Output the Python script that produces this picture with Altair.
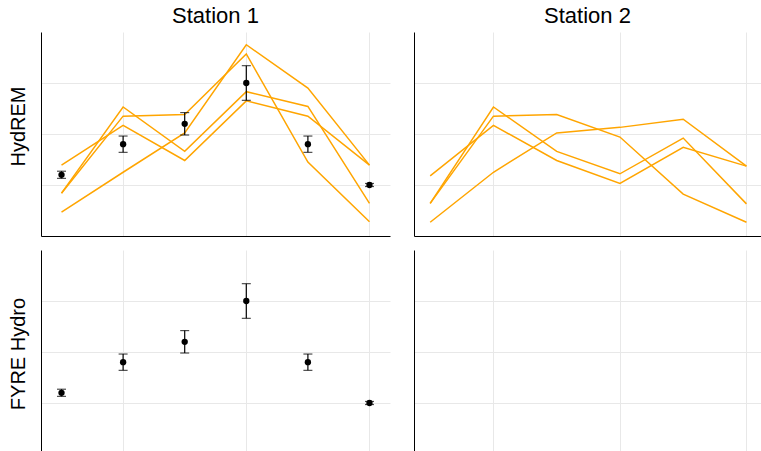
import altair as alt
import pandas as pd

# Sampling positions along the x axis
steps = [1, 2, 3, 4, 5, 6]

# Observed values with their error half-widths
observed = [1.20, 1.80, 2.20, 3.00, 1.80, 1.00]
observed_err = [0.07, 0.16, 0.22, 0.34, 0.16, 0.03]

# HydREM ensemble runs, Station 1
s1_run1 = [0.84, 2.53, 1.66, 2.83, 2.54, 0.64]
s1_run2 = [0.84, 2.35, 2.38, 3.57, 1.45, 0.28]
s1_run3 = [1.39, 2.17, 1.48, 2.65, 2.35, 1.39]
s1_run4 = [0.47, 1.25, 2.02, 3.75, 2.90, 1.39]

# HydREM ensemble runs, Station 2
s2_run1 = [0.64, 2.53, 1.66, 1.22, 1.92, 0.63]
s2_run2 = [0.64, 2.35, 2.38, 1.94, 0.82, 0.27]
s2_run3 = [1.18, 2.17, 1.48, 1.03, 1.74, 1.37]
s2_run4 = [0.27, 1.25, 2.02, 2.13, 2.29, 1.37]

column_titles = ["Station 1", "Station 2"]
row_titles = ["HydREM", "FYRE Hydro"]

FONT = "Liberation Sans"
ORANGE = "#FFA500"
GRID = "#e8e8e8"
Y_DOMAIN = [0, 4]
LEFT_X_DOMAIN = [0.667, 6.333]
RIGHT_X_DOMAIN = [0.744, 6.23]
W_LEFT, W_RIGHT, H = 349, 347, 204


def runs_frame(runs):
    rows = []
    for i, vals in enumerate(runs):
        for x, v in zip(steps, vals):
            rows.append({"x": x, "value": v, "run": f"run {i + 1}"})
    return pd.DataFrame(rows)


obs_df = pd.DataFrame({
    "x": steps,
    "value": observed,
    "lo": [v - e for v, e in zip(observed, observed_err)],
    "hi": [v + e for v, e in zip(observed, observed_err)],
})
s1_df = runs_frame([s1_run1, s1_run2, s1_run3, s1_run4])
s2_df = runs_frame([s2_run1, s2_run2, s2_run3, s2_run4])


def x_enc(domain, field="x"):
    return alt.X(
        f"{field}:Q",
        scale=alt.Scale(domain=domain, nice=False, zero=False),
        axis=alt.Axis(values=[2, 4, 6], labels=False, ticks=False, title=None,
                      grid=True, gridColor=GRID, domainColor="black", domainWidth=1),
    )


def y_enc(field, title, title_y=H / 2):
    kw = dict(values=[1, 2, 3], labels=False, ticks=False, grid=True,
              gridColor=GRID, domainColor="black", domainWidth=1)
    if title:
        axis = alt.Axis(title=title, titleFont=FONT, titleFontSize=20,
                        titleFontWeight="normal", titleColor="black",
                        titleAngle=-90, titleAlign="center",
                        titleBaseline="alphabetic", titleX=-17, titleY=title_y, **kw)
    else:
        axis = alt.Axis(title=None, **kw)
    return alt.Y(f"{field}:Q", scale=alt.Scale(domain=Y_DOMAIN, nice=False), axis=axis)


def observed_layers(ytitle, title_y):
    base = alt.Chart(obs_df)
    y = lambda f: y_enc(f, ytitle, title_y)
    bars = base.mark_rule(color="black", strokeWidth=1.2).encode(
        x=x_enc(LEFT_X_DOMAIN), y=y("lo"), y2="hi:Q")
    cap_lo = base.mark_tick(color="black", orient="horizontal", size=9, thickness=1.2).encode(
        x=x_enc(LEFT_X_DOMAIN), y=y("lo"))
    cap_hi = base.mark_tick(color="black", orient="horizontal", size=9, thickness=1.2).encode(
        x=x_enc(LEFT_X_DOMAIN), y=y("hi"))
    dots = base.mark_circle(color="black", opacity=1, size=40).encode(
        x=x_enc(LEFT_X_DOMAIN), y=y("value"))
    return [bars, cap_lo, cap_hi, dots]


def run_lines(df, domain, ytitle, title_y=H / 2):
    return alt.Chart(df).mark_line(color=ORANGE, strokeWidth=1.5).encode(
        x=x_enc(domain), y=y_enc("value", ytitle, title_y), detail="run:N")


title_style = dict(font=FONT, fontSize=22, fontWeight="normal", color="black",
                   anchor="middle", offset=4)

TOP_LABEL_Y = 94
BOTTOM_LABEL_Y = 103.5

top_left = alt.layer(
    run_lines(s1_df, LEFT_X_DOMAIN, row_titles[0], TOP_LABEL_Y),
    *observed_layers(row_titles[0], TOP_LABEL_Y),
).properties(width=W_LEFT, height=H,
             title=alt.TitleParams(column_titles[0], **title_style))

top_right = run_lines(s2_df, RIGHT_X_DOMAIN, None).properties(
    width=W_RIGHT, height=H, title=alt.TitleParams(column_titles[1], **title_style))

bottom_left = alt.layer(*observed_layers(row_titles[1], BOTTOM_LABEL_Y)).properties(
    width=W_LEFT, height=H)

bottom_right = alt.Chart(obs_df).mark_point(opacity=0).encode(
    x=x_enc(RIGHT_X_DOMAIN), y=y_enc("value", None)
).properties(width=W_RIGHT, height=H)

chart = alt.vconcat(
    alt.hconcat(top_left, top_right, spacing=24),
    alt.hconcat(bottom_left, bottom_right, spacing=24),
    spacing=14,
).properties(
    padding={"left": 8, "top": 5, "right": 0, "bottom": 0},
    background="white",
).configure_view(stroke=None).configure_concat(spacing=24)

chart.save("out.html", embed_options={"renderer": "svg", "actions": False})
